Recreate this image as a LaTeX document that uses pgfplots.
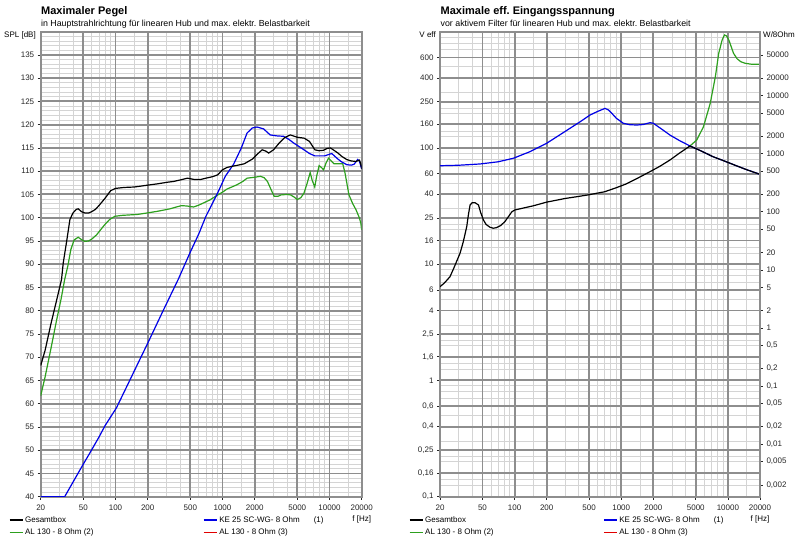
\documentclass[border=0pt]{standalone}
\usepackage{pgfplots}
\pgfplotsset{compat=1.18}
\usepackage{fontspec}
\setmainfont{Liberation Sans}

\definecolor{gmaj}{RGB}{142,142,142}
\definecolor{gmin}{RGB}{212,212,212}
\definecolor{cblue}{RGB}{0,0,230}
\definecolor{cgreen}{RGB}{45,160,30}
\definecolor{cred}{RGB}{225,0,0}
\newcommand{\sm}{\fontsize{8}{9}\selectfont}

\pgfplotsset{
  legend image code/.code={\draw[#1] (0pt,0pt) -- (13pt,0pt);},
}

\begin{document}
\begin{tikzpicture}
\useasboundingbox (0,0) rectangle (800pt,546pt);

% ---------------- left panel ----------------
\node[anchor=base west, inner sep=0pt, font=\fontsize{11}{13}\selectfont\bfseries] at (41pt,531pt) {Maximaler Pegel};
\node[anchor=base west, inner sep=0pt, font=\fontsize{8.8}{10}\selectfont] at (41pt,519.5pt) {in Hauptstrahlrichtung für linearen Hub und max.\ elektr.\ Belastbarkeit};
\node[anchor=base east, inner sep=0pt, font=\sm] at (36pt,508pt) {SPL [dB]};
\node[anchor=base, inner sep=0pt, font=\sm] at (361.7pt,24pt) {f [Hz]};

% minor grid underneath
\begin{axis}[at={(40.7pt,49.3pt)}, anchor=south west, scale only axis,
  width=321pt, height=465pt,
  xmode=log, xmin=20, xmax=20000, ymin=40, ymax=140,
  xtick={20,20000}, ytick={40,140}, xticklabels={}, yticklabels={},
  minor xtick={30,40,60,70,80,90,150,300,400,600,700,800,900,1500,3000,4000,6000,7000,8000,9000,15000},
  minor ytick={41,42,43,44,46,47,48,49,51,52,53,54,56,57,58,59,61,62,63,64,66,67,68,69,71,72,73,74,76,77,78,79,81,82,83,84,86,87,88,89,91,92,93,94,96,97,98,99,101,102,103,104,106,107,108,109,111,112,113,114,116,117,118,119,121,122,123,124,126,127,128,129,131,132,133,134,136,137,138,139},
  grid=minor, minor grid style={gmin, line width=0.8pt},
  axis line style={draw=none}, major tick length=0pt, minor tick length=0pt,
]
\end{axis}

\begin{axis}[at={(40.7pt,49.3pt)}, anchor=south west, scale only axis,
  width=321pt, height=465pt,
  /pgf/number format/assume math mode=true,
  xmode=log, xmin=20, xmax=20000,
  xtick={20,50,100,200,500,1000,2000,5000,10000,20000},
  xticklabels={20,50,100,200,500,1000,2000,5000,10000,20000},
  grid=major,
  major grid style={gmaj, line width=1.9pt},
  axis line style={gmaj, line width=1.9pt},
  tick style={black!85, line width=0.6pt},
  major tick length=3pt, minor tick length=0pt,
  tick align=outside, tick pos=left,
  ticklabel style={font=\sm, text=black!85},
  xticklabel style={yshift=-1.5pt},
  ymin=40, ymax=140,
  ytick={40,45,...,135},
  yticklabels={40,45,50,55,60,65,70,75,80,85,90,95,100,105,110,115,120,125,130,135},
  legend columns=2,
  legend cell align=left,
  legend style={draw=none, fill=none, inner sep=0pt, outer sep=0pt,
      font=\sm, row sep=0.8pt, anchor=north west, at={(-0.099,-0.038)}},
]
\addplot[cgreen, line width=1.2pt, forget plot] coordinates {
(20,61.7)(22,65.8)(25,72)(28,77.7)(31,82.5)(33.5,86.7)(36,89.8)(38.2,93.1)(41,95.2)(44.8,95.8)(48,95.3)(51.7,94.9)(56,95)(60,95.4)(66.5,96.3)(72,97.3)(79.3,98.5)(88,99.6)(98.6,100.3)(115,100.5)(136,100.6)(160,100.7)(196,101.0)(250,101.4)(322,101.9)(370,102.3)(416,102.6)(470,102.5)(537,102.3)(600,102.7)(668,103.2)(760,103.8)(862,104.6)(1000,105.5)(1110,106.2)(1250,106.7)(1370,107.1)(1550,107.8)(1700,108.5)(2000,108.7)(2270,108.9)(2450,108.6)(2630,107.8)(2850,106)(3040,104.6)(3300,104.6)(3520,104.9)(4000,105)(4330,104.9)(4700,104.4)(5000,103.9)(5400,104.3)(5780,105.3)(6200,107.5)(6600,109.7)(6900,108)(7280,106.6)(7600,109)(8000,111.2)(8400,110.8)(8800,110.3)(9300,111.8)(9800,112.8)(10300,112.3)(11000,111.6)(13300,111.6)(14000,109.5)(15200,104.9)(16500,103)(17700,101.7)(19000,100)(19600,98.9)(20000,97.4)
};
\addplot[cblue, line width=1.2pt, forget plot] coordinates {
(20,40)(33.5,40)(40,43.1)(50,47)(57.6,49.4)(70,52.8)(80,55.3)(102,59.1)(130,64.1)(160,68.4)(200,73)(280,80.1)(387,86.8)(500,92.6)(600,96.5)(700,100.3)(900,105.3)(1062,108.9)(1270,111.5)(1500,115)(1696,118.2)(1900,119.3)(2105,119.5)(2420,119.1)(2790,117.8)(3200,117.6)(3730,117.5)(4200,116.8)(4600,116.1)(5200,115.3)(5780,114.6)(6500,113.8)(7280,113.3)(9020,113.3)(10500,113.8)(12000,112.6)(13000,112)(14500,111.4)(16000,111.3)(17000,111.5)(18300,112.5)(19000,112.2)(20000,110.5)
};
\addplot[black, line width=1.2pt, forget plot] coordinates {
(20,68.2)(22,71.5)(25,77.3)(28,82)(31.3,86.7)(32.5,90.3)(35,95)(37.5,99.6)(40,101)(43,101.8)(45,101.9)(48,101.3)(52,101)(56,101)(60,101.3)(65,101.8)(70,102.6)(80,104.2)(90,105.8)(100,106.3)(120,106.5)(150,106.6)(200,107)(250,107.3)(300,107.6)(350,107.8)(400,108.1)(470,108.5)(550,108.2)(620,108.2)(700,108.5)(800,108.8)(900,109.2)(1000,110.3)(1100,110.8)(1200,111)(1400,111.3)(1600,111.6)(1900,112.6)(2100,113.6)(2350,114.6)(2550,114.3)(2700,113.9)(3000,114.6)(3400,116.1)(3800,117.2)(4300,117.8)(4700,117.5)(5000,117.3)(5800,117.1)(6500,116.4)(7300,114.6)(8000,114.4)(8800,114.5)(9500,114.9)(10200,115)(11000,114.5)(12000,113.9)(13000,113.2)(14500,112.5)(16000,112.2)(17700,112.1)(19000,112.4)(19500,111.8)(20000,110.5)
};
\addlegendimage{black, line width=1.2pt}
\addlegendentry{\makebox[176pt][l]{Gesamtbox}}
\addlegendimage{cblue, line width=1.2pt}
\addlegendentry{KE 25 SC-WG- 8 Ohm\hspace{14pt}(1)}
\addlegendimage{cgreen, line width=1.2pt}
\addlegendentry{\makebox[176pt][l]{AL 130 - 8 Ohm (2)}}
\addlegendimage{cred, line width=1.2pt}
\addlegendentry{AL 130 - 8 Ohm (3)}
\end{axis}

% ---------------- right panel ----------------
\node[anchor=base west, inner sep=0pt, font=\fontsize{11}{13}\selectfont\bfseries] at (440.5pt,531pt) {Maximale eff.\ Eingangsspannung};
\node[anchor=base west, inner sep=0pt, font=\fontsize{8.8}{10}\selectfont] at (440.5pt,519.5pt) {vor aktivem Filter für linearen Hub und max.\ elektr.\ Belastbarkeit};
\node[anchor=base east, inner sep=0pt, font=\sm] at (436pt,508pt) {V eff};
\node[anchor=base west, inner sep=0pt, font=\sm] at (763pt,508pt) {W/8Ohm};
\node[anchor=base, inner sep=0pt, font=\sm] at (760pt,24pt) {f [Hz]};

% minor grid underneath
\begin{axis}[at={(440pt,49.3pt)}, anchor=south west, scale only axis,
  width=320pt, height=465pt,
  xmode=log, xmin=20, xmax=20000, ymode=log, ymin=0.1, ymax=1000,
  xtick={20,20000}, ytick={0.1,1000}, xticklabels={}, yticklabels={},
  minor xtick={30,40,60,70,80,90,150,300,400,600,700,800,900,1500,3000,4000,6000,7000,8000,9000,15000},
  minor ytick={0.125,0.14,0.2,0.22,0.3,0.5,0.7,0.8,0.9,1.25,1.4,2,2.2,3,5,7,8,9,12.5,14,20,22,30,50,70,80,90,125,140,200,220,300,500,700,800,900},
  grid=minor, minor grid style={gmin, line width=0.8pt},
  axis line style={draw=none}, major tick length=0pt, minor tick length=0pt,
]
\end{axis}

\begin{axis}[at={(440pt,49.3pt)}, anchor=south west, scale only axis,
  width=320pt, height=465pt,
  /pgf/number format/assume math mode=true,
  xmode=log, xmin=20, xmax=20000,
  xtick={20,50,100,200,500,1000,2000,5000,10000,20000},
  xticklabels={20,50,100,200,500,1000,2000,5000,10000,20000},
  grid=major,
  major grid style={gmaj, line width=1.9pt},
  axis line style={gmaj, line width=1.9pt},
  tick style={black!85, line width=0.6pt},
  major tick length=3pt, minor tick length=0pt,
  tick align=outside, tick pos=left,
  ticklabel style={font=\sm, text=black!85},
  xticklabel style={yshift=-1.5pt},
  ymode=log, ymin=0.1, ymax=1000,
  ytick={0.1,0.16,0.25,0.4,0.6,1,1.6,2.5,4,6,10,16,25,40,60,100,160,250,400,600},
  yticklabels={{0,1},{0,16},{0,25},{0,4},{0,6},1,{1,6},{2,5},4,6,10,16,25,40,60,100,160,250,400,600},
  legend columns=2,
  legend cell align=left,
  legend style={draw=none, fill=none, inner sep=0pt, outer sep=0pt,
      font=\sm, row sep=0.8pt, anchor=north west, at={(-0.097,-0.038)}},
]
\addplot[cgreen, line width=1.2pt, forget plot] coordinates {
(4410,104)(5100,117)(5900,152)(6830,242)(7630,410)(8200,651)(8830,849)(9290,938)(9700,920)(10200,849)(11300,651)(12200,585)(13200,552)(14500,535)(16600,525)(20000,525)
};
\addplot[cblue, line width=1.2pt, forget plot] coordinates {
(20,70.3)(30,71)(47.4,72.8)(70,76)(97.3,81.5)(139.6,92.9)(200,109.7)(260,128)(331,147.6)(420,170)(510,192)(600,206)(705,219)(760,212)(814,199)(900,180)(1047,163)(1200,158.5)(1397,157.5)(1600,159)(1862,165)(2000,163)(2400,145)(2866,129)(3500,116)(4410,104)(5500,95)(7270,84)(9000,78)(12000,70.3)(15000,65)(20000,59.3)
};
\addplot[black, line width=1.2pt, forget plot] coordinates {
(20,6.4)(22,6.9)(24.8,7.8)(27,9.3)(30.8,12.4)(33,15.5)(35.6,21)(37,27)(38.3,32.3)(40,33.8)(42.6,33.8)(45.9,32.3)(48,28)(51.1,24)(54,22)(58.8,20.8)(63,20.4)(67.6,20.6)(74,21.5)(81,23.2)(88,25.8)(94.5,28.3)(101,29.3)(150,31.8)(200,34.2)(300,36.8)(400,38.3)(500,39.6)(700,42)(900,45.5)(1100,48.8)(1400,54.5)(1860,62.5)(2300,69.5)(2866,78.8)(3500,90)(4410,104)(5500,95)(7270,84)(9000,78)(12000,70.3)(15000,65)(20000,59.3)
};
\addlegendimage{black, line width=1.2pt}
\addlegendentry{\makebox[176pt][l]{Gesamtbox}}
\addlegendimage{cblue, line width=1.2pt}
\addlegendentry{KE 25 SC-WG- 8 Ohm\hspace{14pt}(1)}
\addlegendimage{cgreen, line width=1.2pt}
\addlegendentry{\makebox[176pt][l]{AL 130 - 8 Ohm (2)}}
\addlegendimage{cred, line width=1.2pt}
\addlegendentry{AL 130 - 8 Ohm (3)}
\end{axis}

\begin{axis}[at={(440pt,49.3pt)}, anchor=south west, scale only axis,
  width=320pt, height=465pt,
  /pgf/number format/assume math mode=true,
  xmode=log, xmin=20, xmax=20000, hide x axis,
  axis y line*=right,
  ymode=log, ymin=0.00125, ymax=125000,
  ytick={0.002,0.005,0.01,0.02,0.05,0.1,0.2,0.5,1,2,5,10,20,50,100,200,500,1000,2000,5000,10000,20000,50000},
  yticklabels={{0,002},{0,005},{0,01},{0,02},{0,05},{0,1},{0,2},{0,5},1,2,5,10,20,50,100,200,500,1000,2000,5000,10000,20000,50000},
  axis line style={gmaj, line width=1.9pt},
  tick style={black!85, line width=0.6pt},
  major tick length=3pt, minor tick length=0pt,
  tick align=outside,
  ticklabel style={font=\sm, text=black!85},
]
\end{axis}
\end{tikzpicture}
\end{document}
